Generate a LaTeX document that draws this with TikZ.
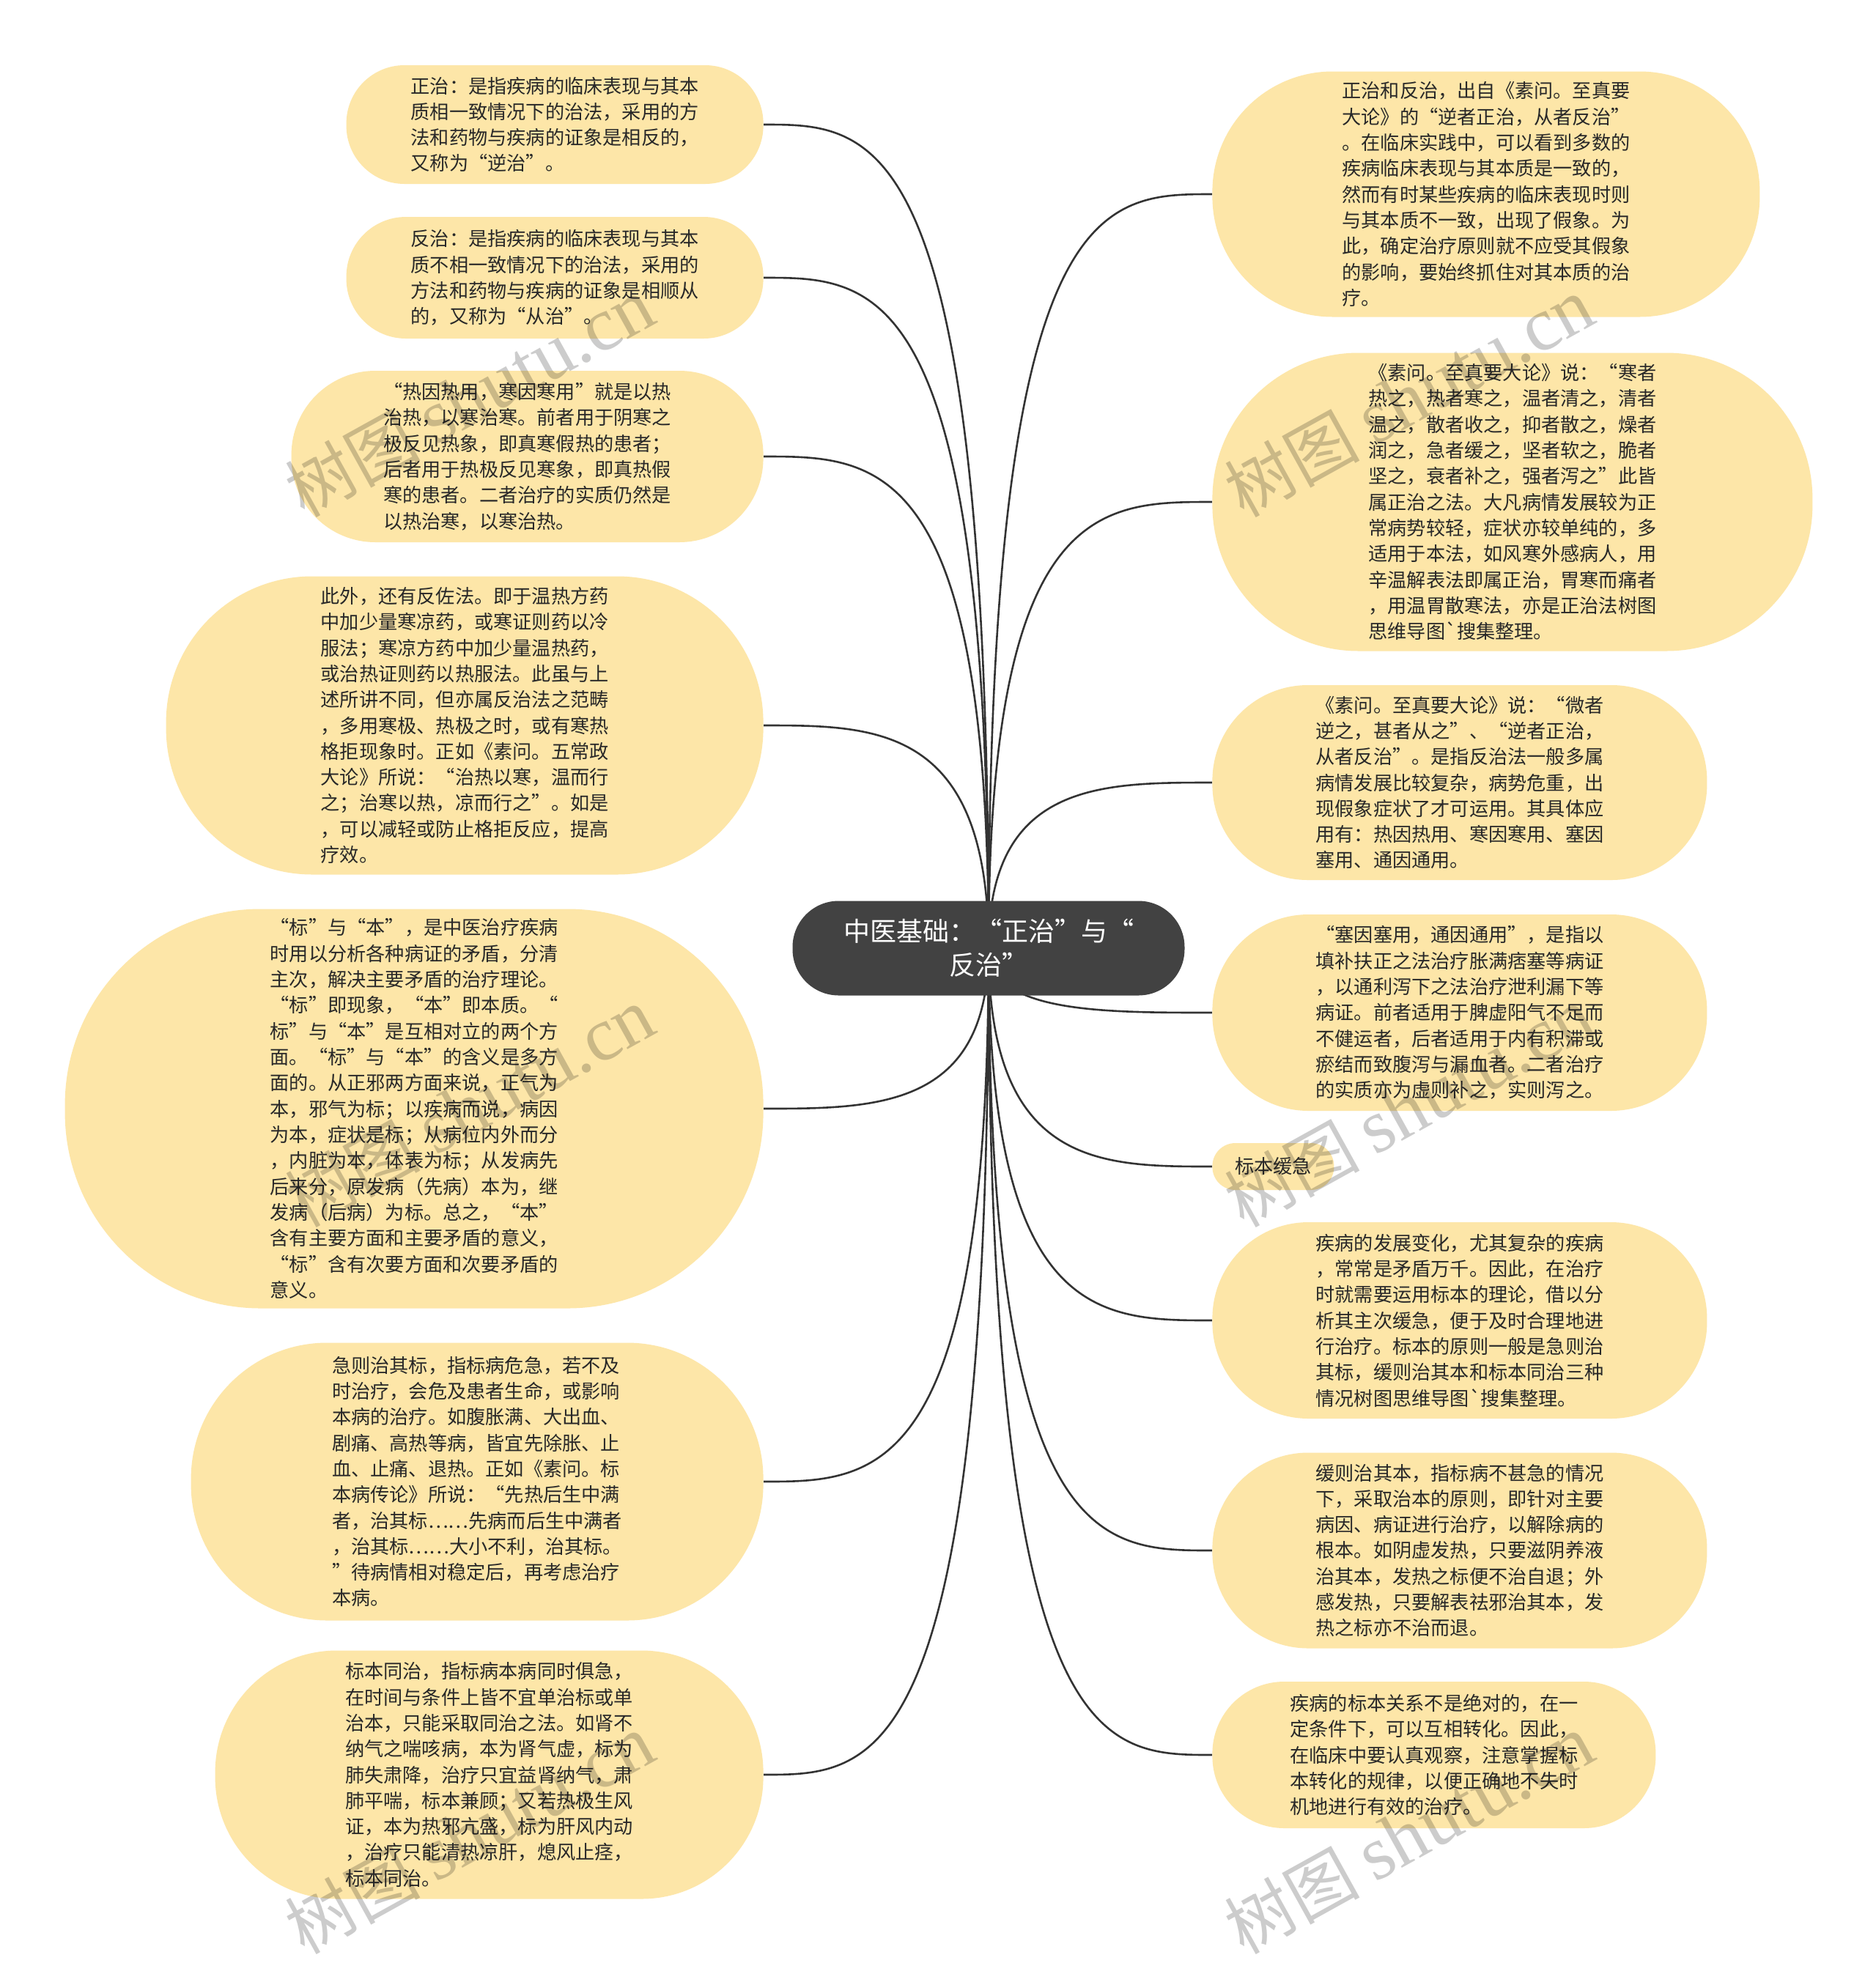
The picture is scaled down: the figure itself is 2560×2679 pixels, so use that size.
\documentclass[tikz,border=0pt]{standalone}
\usepackage{fontspec}
\newfontfamily\cjk{Noto Sans CJK SC}
\newfontfamily\wmserif{Liberation Serif}
\usetikzlibrary{calc,backgrounds}
\definecolor{leafyellow}{RGB}{253,230,168}
\definecolor{rootgray}{RGB}{66,66,66}
\definecolor{inkgray}{RGB}{40,40,40}
\definecolor{linkgray}{RGB}{51,51,51}
\tikzset{
  map/.style={x=0.5pt,y=-0.5pt},
  leaf/.style 2 args={fill=leafyellow,text=inkgray,align=left,inner sep=0pt,
    minimum width=#1,minimum height=#2,rounded corners=#2*0.49,
    font=\cjk\fontsize{13.1pt}{17.66pt}\selectfont},
  root/.style={fill=rootgray,text=white,align=center,inner sep=0pt,
    minimum width=267.5pt,minimum height=64.5pt,rounded corners=31.5pt,
    font=\cjk\fontsize{18pt}{23pt}\selectfont},
  branch/.style={draw=linkgray,line width=1.3pt},
  wmark/.style={rotate=29,text=black,text opacity=0.2,inner sep=0pt,
    font=\cjk\fontsize{46pt}{50pt}\selectfont}
}

\begin{document}
\begin{tikzpicture}[map]
  \useasboundingbox (0,0) rectangle (2560,2679);

  % centre
  \node[root] (root) at (1349,1294) {中医基础：“正治”与“\\反治”};

  % left side
  \node[leaf={284.5pt}{81pt},anchor=east] (l1) at (1042,170) {正治：是指疾病的临床表现与其本\\质相一致情况下的治法，采用的方\\法和药物与疾病的证象是相反的，\\又称为“逆治”。};
  \node[leaf={284.5pt}{83pt},anchor=east] (l2) at (1042,379) {反治：是指疾病的临床表现与其本\\质不相一致情况下的治法，采用的\\方法和药物与疾病的证象是相顺从\\的，又称为“从治”。};
  \node[leaf={322pt}{117pt},anchor=east] (l3) at (1042,623) {“热因热用，寒因寒用”就是以热\\治热，以寒治寒。前者用于阴寒之\\极反见热象，即真寒假热的患者；\\后者用于热极反见寒象，即真热假\\寒的患者。二者治疗的实质仍然是\\以热治寒，以寒治热。};
  \node[leaf={407.5pt}{203.5pt},anchor=east] (l4) at (1042,990) {此外，还有反佐法。即于温热方药\\中加少量寒凉药，或寒证则药以冷\\服法；寒凉方药中加少量温热药，\\或治热证则药以热服法。此虽与上\\述所讲不同，但亦属反治法之范畴\\，多用寒极、热极之时，或有寒热\\格拒现象时。正如《素问。五常政\\大论》所说：“治热以寒，温而行\\之；治寒以热，凉而行之”。如是\\，可以减轻或防止格拒反应，提高\\疗效。};
  \node[leaf={476.5pt}{272.5pt},anchor=east] (l5) at (1042,1513) {“标”与“本”，是中医治疗疾病\\时用以分析各种病证的矛盾，分清\\主次，解决主要矛盾的治疗理论。\\“标”即现象，“本”即本质。“\\标”与“本”是互相对立的两个方\\面。“标”与“本”的含义是多方\\面的。从正邪两方面来说，正气为\\本，邪气为标；以疾病而说，病因\\为本，症状是标；从病位内外而分\\，内脏为本，体表为标；从发病先\\后来分，原发病（先病）本为，继\\发病（后病）为标。总之，“本”\\含有主要方面和主要矛盾的意义，\\“标”含有次要方面和次要矛盾的\\意义。};
  \node[leaf={390.5pt}{189.5pt},anchor=east] (l6) at (1042,2022) {急则治其标，指标病危急，若不及\\时治疗，会危及患者生命，或影响\\本病的治疗。如腹胀满、大出血、\\剧痛、高热等病，皆宜先除胀、止\\血、止痛、退热。正如《素问。标\\本病传论》所说：“先热后生中满\\者，治其标……先病而后生中满者\\，治其标……大小不利，治其标。\\”待病情相对稳定后，再考虑治疗\\本病。};
  \node[leaf={374pt}{169.5pt},anchor=east] (l7) at (1042,2422) {标本同治，指标病本病同时俱急，\\在时间与条件上皆不宜单治标或单\\治本，只能采取同治之法。如肾不\\纳气之喘咳病，本为肾气虚，标为\\肺失肃降，治疗只宜益肾纳气，肃\\肺平喘，标本兼顾；又若热极生风\\证，本为热邪亢盛，标为肝风内动\\，治疗只能清热凉肝，熄风止痉，\\标本同治。};

  % right side
  \node[leaf={373.5pt}{167.5pt},anchor=west] (r1) at (1654,265) {正治和反治，出自《素问。至真要\\大论》的“逆者正治，从者反治”\\。在临床实践中，可以看到多数的\\疾病临床表现与其本质是一致的，\\然而有时某些疾病的临床表现时则\\与其本质不一致，出现了假象。为\\此，确定治疗原则就不应受其假象\\的影响，要始终抓住对其本质的治\\疗。};
  \node[leaf={409.5pt}{203.5pt},anchor=west] (r2) at (1654,685) {《素问。至真要大论》说：“寒者\\热之，热者寒之，温者清之，清者\\温之，散者收之，抑者散之，燥者\\润之，急者缓之，坚者软之，脆者\\坚之，衰者补之，强者泻之”此皆\\属正治之法。大凡病情发展较为正\\常病势较轻，症状亦较单纯的，多\\适用于本法，如风寒外感病人，用\\辛温解表法即属正治，胃寒而痛者\\，用温胃散寒法，亦是正治法树图\\思维导图\textasciigrave 搜集整理。};
  \node[leaf={337.5pt}{133pt},anchor=west] (r3) at (1654,1068) {《素问。至真要大论》说：“微者\\逆之，甚者从之”、“逆者正治，\\从者反治”。是指反治法一般多属\\病情发展比较复杂，病势危重，出\\现假象症状了才可运用。其具体应\\用有：热因热用、寒因寒用、塞因\\塞用、通因通用。};
  \node[leaf={337.5pt}{134pt},anchor=west] (r4) at (1654,1382) {“塞因塞用，通因通用”，是指以\\填补扶正之法治疗胀满痞塞等病证\\，以通利泻下之法治疗泄利漏下等\\病证。前者适用于脾虚阳气不足而\\不健运者，后者适用于内有积滞或\\瘀结而致腹泻与漏血者。二者治疗\\的实质亦为虚则补之，实则泻之。};
  \node[leaf={83pt}{32pt},anchor=west] (r5) at (1654,1592) {标本缓急};
  \node[leaf={337.5pt}{134pt},anchor=west] (r6) at (1654,1802) {疾病的发展变化，尤其复杂的疾病\\，常常是矛盾万千。因此，在治疗\\时就需要运用标本的理论，借以分\\析其主次缓急，便于及时合理地进\\行治疗。标本的原则一般是急则治\\其标，缓则治其本和标本同治三种\\情况树图思维导图\textasciigrave 搜集整理。};
  \node[leaf={337.5pt}{133.5pt},anchor=west] (r7) at (1654,2116) {缓则治其本，指标病不甚急的情况\\下，采取治本的原则，即针对主要\\病因、病证进行治疗，以解除病的\\根本。如阴虚发热，只要滋阴养液\\治其本，发热之标便不治自退；外\\感发热，只要解表祛邪治其本，发\\热之标亦不治而退。};
  \node[leaf={302.5pt}{100pt},anchor=west] (r8) at (1654,2395) {疾病的标本关系不是绝对的，在一\\定条件下，可以互相转化。因此，\\在临床中要认真观察，注意掌握标\\本转化的规律，以便正确地不失时\\机地进行有效的治疗。};

  % white page and connectors, behind the boxes
  \begin{scope}[on background layer]
    \fill[white] (0,0) rectangle (2560,2679);
    \foreach \n in {l1,l2,l3,l4,l5,l6,l7}
      \draw[branch] (root.center) .. controls (root.center |- \n.east) and ($(root.center |- \n.east)!0.5!(\n.east)$) .. (\n.east);
    \foreach \n in {r1,r2,r3,r4,r5,r6,r7,r8}
      \draw[branch] (root.center) .. controls (root.center |- \n.west) and ($(root.center |- \n.west)!0.5!(\n.west)$) .. (\n.west);
  \end{scope}

  % watermarks
  \foreach \wx/\wy [count=\i] in {641/543,1923/543,641/1512,1923/1512,641/2504,1923/2504}
    \node[wmark] (wm\i) at (\wx,\wy) {树图 {\wmserif\fontsize{52pt}{56pt}\selectfont shutu.cn}};
\end{tikzpicture}
\end{document}
